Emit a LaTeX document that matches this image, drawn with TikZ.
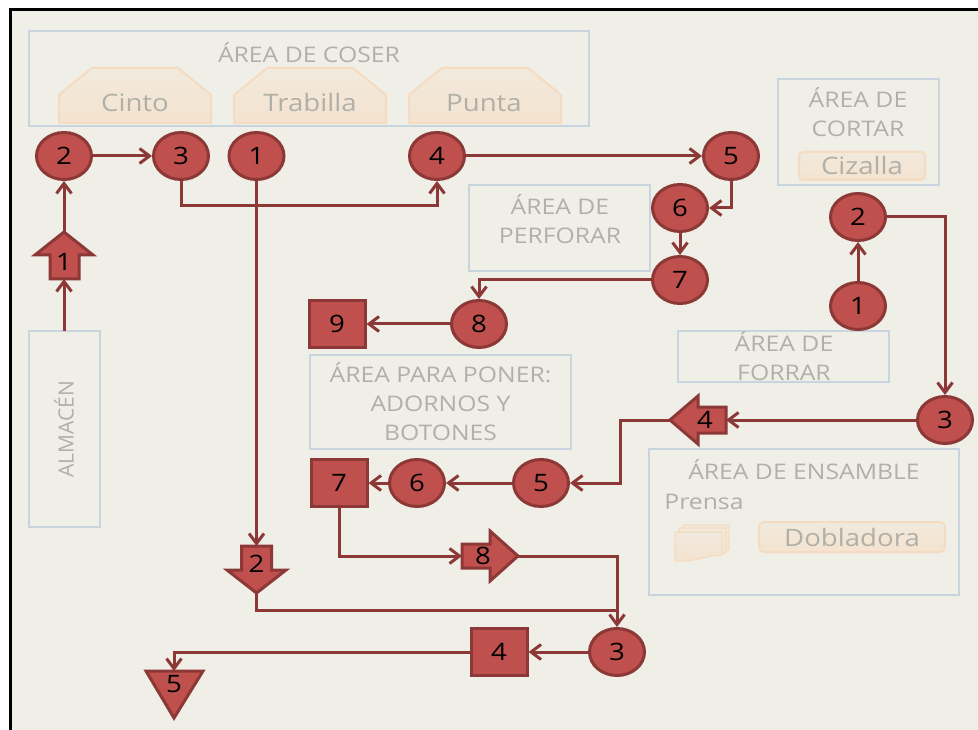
\documentclass[tikz,border=0pt]{standalone}
\usepackage{fontspec}
\setmainfont[FakeStretch=1.15]{Open Sans}
\newfontfamily\plainfam{Open Sans}
\usetikzlibrary{shapes.geometric,arrows.meta}
\definecolor{bg}{HTML}{EFEEE7}
\definecolor{dk}{HTML}{8C3836}
\definecolor{rd}{HTML}{C0504D}
\definecolor{gt}{HTML}{B0B0A8}
\definecolor{bl}{HTML}{C8D5DE}
\definecolor{ob}{HTML}{F5DCC0}
\definecolor{ot}{HTML}{F1EADD}
\definecolor{of}{HTML}{F4E3CF}
\tikzset{x=1pt,y=-1pt,
 redshape/.style={draw=dk,fill=rd,line width=3pt,line join=miter},
 circ/.style={redshape,ellipse,minimum width=55pt,minimum height=47pt,inner sep=0pt,font=\fontsize{24}{24}\selectfont,text=black},
 sq/.style={redshape,rectangle,minimum width=56pt,minimum height=47pt,inner sep=0pt,font=\fontsize{24}{24}\selectfont,text=black},
 lab/.style={inner sep=0pt,font=\fontsize{24}{24}\selectfont,text=black},
 area/.style={draw=bl,line width=2.8pt,rectangle,inner sep=0pt},
 gtext/.style={text=gt,font=\fontsize{21.5}{29}\selectfont,align=center,inner sep=0pt},
 mtext/.style={gtext,font=\fontsize{24}{24}\selectfont},
 orange/.style={draw=ob,line width=2pt,top color=ot,bottom color=of},
 conn/.style={draw=dk,line width=3pt,line join=miter},
 arr/.style={conn,-{Straight Barb[length=10pt,width=15pt,line width=3pt]}},
}
\begin{document}
\begin{tikzpicture}
\useasboundingbox (0,0) rectangle (978,730);
\fill[white] (0,0) rectangle (978,730);
\fill[bg] (10,10) rectangle (978,730);
\draw[black,line width=3pt] (10,730) -- (10,10) -- (978,10);
% areas
\draw[area] (29,31) rectangle (589,126);
\draw[area] (469,185) rectangle (650,271);
\draw[area] (778,79) rectangle (939,185);
\draw[area] (678,331) rectangle (889,382);
\draw[area] (310,355) rectangle (571,449);
\draw[area] (649,449) rectangle (959,595);
\draw[area] (29,331) rectangle (100,527);
\node[inner sep=0pt,minimum width=70pt,minimum height=196pt] (alm) at (64,429) {};
\node[gtext,rotate=90,font=\plainfam\fontsize{21}{29}\selectfont] (almt) at (64,429.5) {ALMACÉN};
\node[gtext] (tcoser) at (309,53) {ÁREA DE COSER};
\node[gtext] (tperf) at (560,219) {ÁREA DE\\PERFORAR};
\node[gtext] (tcort) at (858,112) {ÁREA DE\\CORTAR};
\node[gtext] (tforr) at (784,356) {ÁREA DE\\FORRAR};
\node[gtext] (tpon) at (440.5,402) {ÁREA PARA PONER:\\ADORNOS Y\\BOTONES};
\node[gtext] (tens) at (804,470) {ÁREA DE ENSAMBLE};
\node[gtext] (tpre) at (704,502) {Prensa};
% machines
\foreach \x in {59,234,409}{
 \draw[orange] (\x,95) -- (\x+33,68) -- (\x+119,68) -- (\x+152,95) -- (\x+152,123) -- (\x,123) -- cycle;
}
\node[mtext] (tcin) at (135,103) {Cinto};
\node[mtext] (ttra) at (310,103) {Trabilla};
\node[mtext] (tpun) at (484,103) {Punta};
\draw[orange,rounded corners=4pt] (799,152) rectangle (925,180);
\node[mtext] (tciz) at (862,166) {Cizalla};
\draw[orange,rounded corners=5pt] (759,522) rectangle (945,552);
\node[mtext] (tdob) at (852,537) {Dobladora};
\draw[orange,line width=1.2pt] (683,525) -- (729,525) -- (729,550) -- (723,552) -- (683,552) -- cycle;
\draw[orange,line width=1.2pt] (679,528) -- (726,528) -- (726,553) -- (720,555) -- (679,555) -- cycle;
\draw[orange,line width=1.2pt,rounded corners=1pt] (675,532) -- (722,532) -- (722,555) .. controls (705,556) and (695,562) .. (675,561) -- cycle;
% custom shapes
\draw[redshape] (64,232) -- (93,255) -- (79,255) -- (79,279) -- (50,279) -- (50,255) -- (35,255) -- cycle;
\coordinate (up1top) at (64,232); \coordinate (up1bot) at (64,279);
\node[lab] (up1) at (64,262) {1};
\draw[redshape] (670,420) -- (698,396) -- (698,407) -- (726,407) -- (726,433) -- (698,433) -- (698,444) -- cycle;
\coordinate (l4tip) at (670,420); \coordinate (l4end) at (726,420);
\node[lab] (l4) at (705,420) {4};
\draw[redshape] (241.5,546) -- (271.5,546) -- (271.5,570) -- (286,570) -- (256.5,593) -- (227,570) -- (241.5,570) -- cycle;
\coordinate (d2top) at (256.5,546); \coordinate (d2tip) at (256.5,593);
\node[lab] (d2) at (256.5,564) {2};
\draw[redshape] (462,544) -- (490,544) -- (490,531) -- (518,556) -- (490,581) -- (490,568) -- (462,568) -- cycle;
\coordinate (r8end) at (462,556); \coordinate (r8tip) at (518,556);
\node[lab] (r8) at (483,556) {8};
\draw[redshape] (146,671) -- (203,671) -- (174,718) -- cycle;
\coordinate (t5top) at (174,671);
\node[lab] (t5) at (174,684) {5};
% circles and squares
\node[circ] (a2) at (64,156) {2};
\node[circ] (a3) at (181,156) {3};
\node[circ] (b1) at (256.5,156) {1};
\node[circ] (a4) at (437,156) {4};
\node[circ] (a5) at (731,156) {5};
\node[circ] (a6) at (680,208) {6};
\node[circ] (a7) at (680,280) {7};
\node[circ] (a8) at (479,324) {8};
\node[sq] (a9) at (337,324) {9};
\node[circ] (c2) at (858,217) {2};
\node[circ] (c1) at (858,306) {1};
\node[circ] (c3) at (945,420) {3};
\node[circ] (c5) at (541,483) {5};
\node[circ] (c6) at (417,483) {6};
\node[sq] (c7) at (339,483) {7};
\node[circ] (b3) at (617,652) {3};
\node[sq] (b4) at (499,652) {4};
% connector bends
\coordinate (k34) at (300,206);
\coordinate (k2b3) at (400,610);
% connectors
\draw[arr] (alm.north) -- (up1bot);
\draw[arr] (up1top) -- (a2.south);
\draw[arr] (a2.east) -- (a3.west);
\draw[arr] (a3.south) |- (k34) -| (a4.south);
\draw[arr] (b1.south) -- (d2top);
\draw[arr] (a4.east) -- (a5.west);
\draw[arr] (a5.south) |- (a6.east);
\draw[arr] (a6.south) -- (a7.north);
\draw[arr] (a7.west) -| (a8.north);
\draw[arr] (a8.west) -- (a9.east);
\draw[arr] (c1.north) -- (c2.south);
\draw[arr] (c2.east) -| (c3.north);
\draw[arr] (c3.west) -- (l4end);
\coordinate (k45) at (620,450);
\draw[arr] (l4tip) -| (k45) |- (c5.east);
\draw[arr] (c5.west) -- (c6.east);
\draw[arr] (c6.west) -- (c7.east);
\draw[arr] (c7.south) |- (r8end);
\draw[arr] (r8tip) -| (b3.north);
\draw[conn] (d2tip) |- (k2b3) -- (617,610);
\draw[arr] (b3.west) -- (b4.east);
\draw[arr] (b4.west) -| (t5top);
\end{tikzpicture}
\end{document}
